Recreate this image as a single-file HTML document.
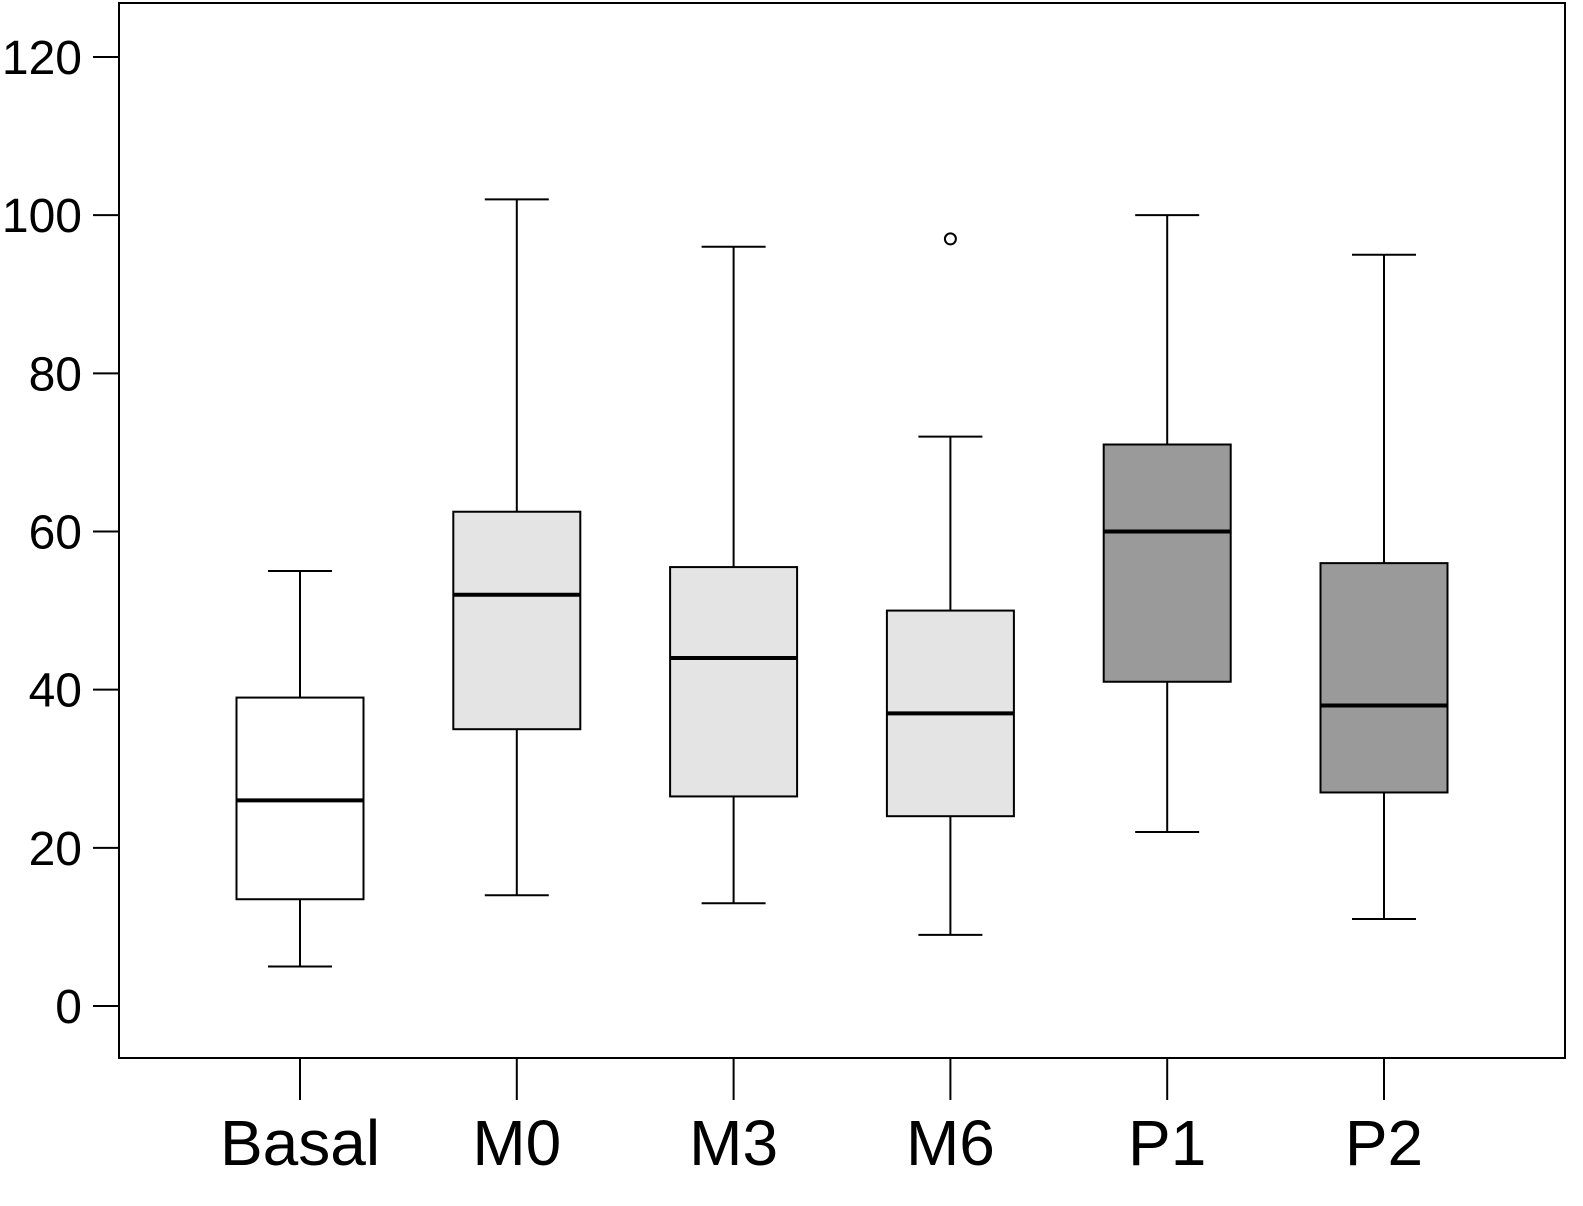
<!DOCTYPE html>
<html><head><meta charset="utf-8"><style>
html,body{margin:0;padding:0;background:#fff;}
svg{display:block;font-family:"Liberation Sans",Arial,sans-serif;}
</style></head><body>
<svg id="chart" width="1583" height="1206" viewBox="0 0 1583 1206"></svg>
<script>
const categories=["Basal","M0","M3","M6","P1","P2"];
const mins=[5,14,13,9,22,11];
const q1s=[13.5,35,26.5,24,41,27];
const medians=[26,52,44,37,60,38];
const q3s=[39,62.5,55.5,50,71,56];
const maxs=[55,102,96,72,100,95];
const outliers=[[],[],[],[97],[],[]];
const fills=["#ffffff","#e4e4e4","#e4e4e4","#e4e4e4","#9a9a9a","#9a9a9a"];
const yTicks=[0,20,40,60,80,100,120];

const NS="http://www.w3.org/2000/svg";
const svg=document.getElementById('chart');
const X0=119,X1=1565,Y0=3,Y1=1058;
function y(v){return 1006-(v/120)*(1006-57);}
function x(i){return 300+i*216.8;}
function mk(tag,attrs,parent){const e=document.createElementNS(NS,tag);for(const k in attrs)e.setAttribute(k,attrs[k]);(parent||svg).appendChild(e);return e;}

const frame=mk('rect',{x:X0,y:Y0,width:X1-X0,height:Y1-Y0,fill:'none',stroke:'#000','stroke-width':2});



const yAxis=mk('g',{});


yTicks.forEach(t=>{
  const l=mk('line',{x1:93,x2:X0,y1:y(t),y2:y(t),stroke:'#000','stroke-width':2},yAxis);
  
  
  const tx=mk('text',{x:82,y:y(t)+17,'text-anchor':'end','font-size':48},yAxis);
  tx.textContent=t;
  
  
});

const xAxis=mk('g',{});


categories.forEach((c,i)=>{
  const l=mk('line',{x1:x(i),x2:x(i),y1:Y1,y2:1100,stroke:'#000','stroke-width':2},xAxis);
  
  
  const tx=mk('text',{x:x(i),y:1165,'text-anchor':'middle','font-size':64},xAxis);
  tx.textContent=c;
  
  
});

categories.forEach((c,i)=>{
  const g=mk('g',{});
  
  
  const cx=x(i),bw=127,cw=64;
  mk('line',{x1:cx,x2:cx,y1:y(maxs[i]),y2:y(q3s[i]),stroke:'#000','stroke-width':2},g);
  mk('line',{x1:cx,x2:cx,y1:y(q1s[i]),y2:y(mins[i]),stroke:'#000','stroke-width':2},g);
  mk('line',{x1:cx-cw/2,x2:cx+cw/2,y1:y(maxs[i]),y2:y(maxs[i]),stroke:'#000','stroke-width':2},g);
  mk('line',{x1:cx-cw/2,x2:cx+cw/2,y1:y(mins[i]),y2:y(mins[i]),stroke:'#000','stroke-width':2},g);
  mk('rect',{x:cx-bw/2,y:y(q3s[i]),width:bw,height:y(q1s[i])-y(q3s[i]),fill:fills[i],stroke:'#000','stroke-width':2},g);
  mk('line',{x1:cx-bw/2,x2:cx+bw/2,y1:y(medians[i]),y2:y(medians[i]),stroke:'#000','stroke-width':4},g);
  outliers[i].forEach(o=>{
    const ci=mk('circle',{cx:cx,cy:y(o),r:5.5,fill:'#fff',stroke:'#000','stroke-width':2},g);
    
    
  });
});
</script>
</body></html>
